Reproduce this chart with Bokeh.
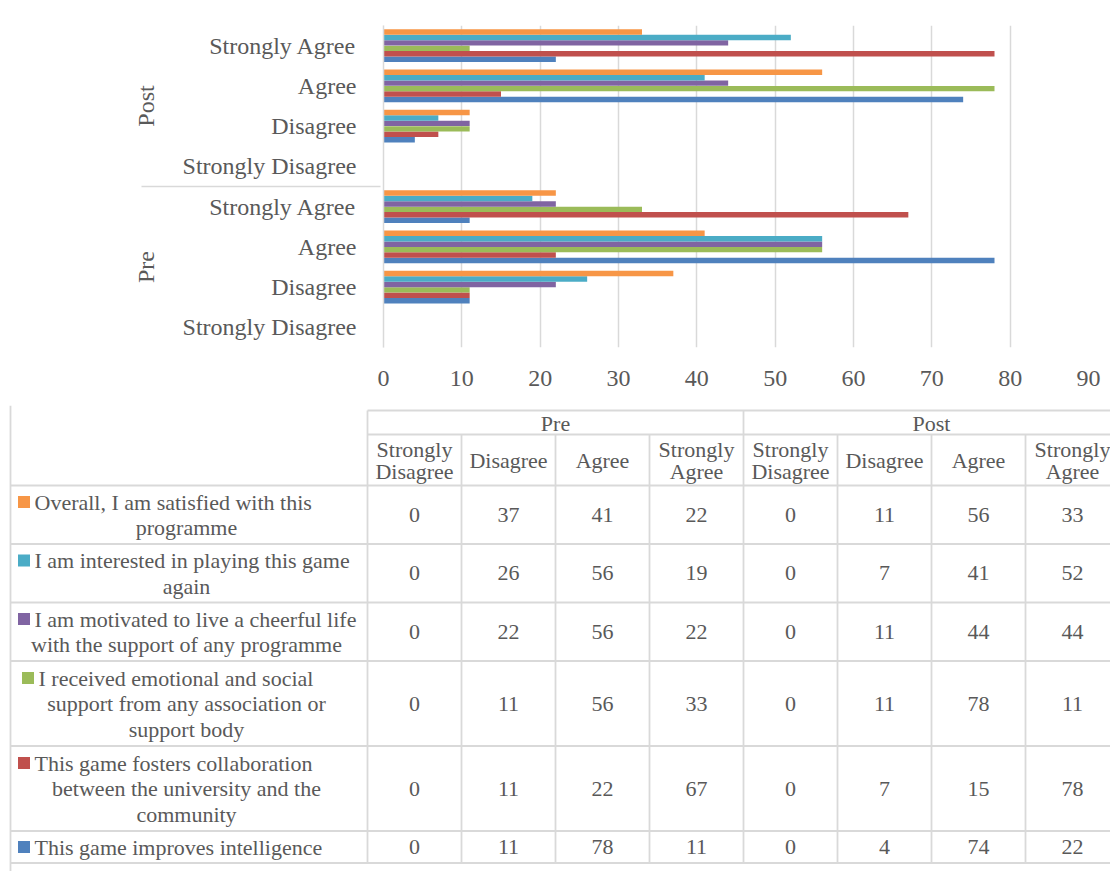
from bokeh.plotting import figure
from bokeh.models import ColumnDataSource, FactorRange, FixedTicker, Range1d, BoxAnnotation
from bokeh.transform import dodge
from bokeh.embed import file_html
from bokeh.resources import INLINE
from bokeh.core.properties import value

# ---------------- data ----------------
phases = ["Pre", "Post"]
responses = ["Strongly Disagree", "Disagree", "Agree", "Strongly Agree"]
x_ticks = [0, 10, 20, 30, 40, 50, 60, 70, 80, 90]

series_labels = [
    "This game improves intelligence",
    "This game fosters collaboration\nbetween the university and the\ncommunity",
    "I received emotional and social\nsupport from any association or\nsupport body",
    "I am motivated to live a cheerful life\nwith the support of any programme",
    "I am interested in playing this game\nagain",
    "Overall, I am satisfied with this\nprogramme",
]
series_colors = ["#4F81BD", "#C0504D", "#9BBB59", "#8064A2", "#4BACC6", "#F79646"]

# order: Pre SD, Pre D, Pre A, Pre SA, Post SD, Post D, Post A, Post SA
intelligence = [0, 11, 78, 11, 0, 4, 74, 22]
collaboration = [0, 11, 22, 67, 0, 7, 15, 78]
emotional = [0, 11, 56, 33, 0, 11, 78, 11]
motivated = [0, 22, 56, 22, 0, 11, 44, 44]
interested = [0, 26, 56, 19, 0, 7, 41, 52]
satisfied = [0, 37, 41, 22, 0, 11, 56, 33]
series_values = [intelligence, collaboration, emotional, motivated, interested, satisfied]

# ---------------- style ----------------
FONT = value("Liberation Serif")
TXT = "#595959"
LINE = "#D9D9D9"
W = 1110
CHART_H = 405
TABLE_H = 466
F_LEFT, F_RIGHT, F_TOP, F_BOTTOM = 383, 1088, 25, 347

# ---------------- chart ----------------
factors = [(ph, r) for ph in phases for r in responses]
data = {"y": factors}
for i, vals in enumerate(series_values):
    data[f"s{i}"] = vals
src = ColumnDataSource(data)

p = figure(width=W, height=CHART_H,
           y_range=FactorRange(factors=factors, group_padding=0, factor_padding=0, range_padding=0),
           x_range=Range1d(0, 90),
           output_backend="svg", toolbar_location=None,
           min_border_left=F_LEFT, min_border_right=W - F_RIGHT, min_border_top=F_TOP,
           min_border_bottom=CHART_H - F_BOTTOM)
p.outline_line_color = None
p.background_fill_color = "white"
p.border_fill_color = "white"

n = len(series_values)
bar_h = 0.135
for i in range(n):
    off = (i - (n - 1) / 2) * bar_h
    p.hbar(y=dodge("y", off, range=p.y_range), right=f"s{i}", left=0, height=bar_h,
           source=src, fill_color=series_colors[i], line_color=None)

p.xaxis.ticker = FixedTicker(ticks=x_ticks)
p.xaxis.axis_line_color = None
p.xaxis.major_tick_line_color = None
p.xaxis.minor_tick_line_color = None
p.xaxis.major_label_standoff = 17
p.xaxis.major_label_text_font = "Liberation Serif"
p.xaxis.major_label_text_font_size = "24px"
p.xaxis.major_label_text_color = TXT

p.yaxis.axis_line_color = LINE
p.yaxis.axis_line_width = 1.5
p.yaxis.major_tick_line_color = None
p.yaxis.minor_tick_line_color = None
p.yaxis.major_label_standoff = 21
p.yaxis.major_label_text_font = "Liberation Serif"
p.yaxis.major_label_text_font_size = "24px"
p.yaxis.major_label_text_color = TXT
p.yaxis.group_text_font = "Liberation Serif"
p.yaxis.group_text_font_size = "24px"
p.yaxis.group_text_color = TXT
p.yaxis.group_text_font_style = "normal"
p.yaxis.separator_line_color = LINE
p.yaxis.separator_line_width = 1.5

p.xgrid.grid_line_color = LINE
p.xgrid.grid_line_width = 1.5
p.ygrid.grid_line_color = None

# frame lines of the category-label box (top and bottom)
for yy in (F_TOP, F_BOTTOM):
    p.add_layout(BoxAnnotation(left=126, right=F_LEFT, top=yy - 0.75, bottom=yy + 0.75,
                               left_units="canvas", right_units="canvas",
                               top_units="canvas", bottom_units="canvas",
                               fill_color=LINE, fill_alpha=1, line_color=None, level="overlay"))

# ---------------- data table ----------------
T_TOP = CHART_H
t = figure(width=W, height=TABLE_H, x_range=Range1d(0, W), y_range=Range1d(T_TOP + TABLE_H, T_TOP),
           output_backend="svg", toolbar_location=None, min_border=0,
           x_axis_location=None, y_axis_location=None)
t.outline_line_color = None
t.grid.visible = False
t.background_fill_color = "white"
t.border_fill_color = "white"

frame_x = 10
col_left = 367
col_w = 94
ncols = len(phases) * len(responses)
col_edges = [col_left + col_w * j for j in range(ncols + 1)]
hdr1_top, hdr1_bot, hdr2_bot = 410, 434, 485
line_gap = 25.5
rows = list(reversed(range(n)))  # table lists last series first
row_lines = [len(series_labels[i].split("\n")) for i in rows]
row_edges = [hdr2_bot]
for k in row_lines:
    row_edges.append(row_edges[-1] + 5.5 + 26.5 * k)
right_x = col_edges[-1]

x0s, y0s, x1s, y1s = [], [], [], []
def seg(a, b, c, d):
    x0s.append(a); y0s.append(b); x1s.append(c); y1s.append(d)

seg(col_left, hdr1_top, right_x, hdr1_top)
seg(col_left, hdr1_bot, right_x, hdr1_bot)
for y in row_edges:
    seg(frame_x, y, right_x, y)
seg(frame_x, T_TOP, frame_x, T_TOP + TABLE_H)
for j, x in enumerate(col_edges):
    top = hdr1_top if j % len(responses) == 0 else hdr1_bot
    seg(x, top, x, row_edges[-1])
t.segment(x0=x0s, y0=y0s, x1=x1s, y1=y1s, line_color=LINE, line_width=1.8)

tx, ty, tt = [], [], []
# phase headers
for g, ph in enumerate(phases):
    a = col_edges[g * len(responses)]
    b = col_edges[(g + 1) * len(responses)]
    tx.append((a + b) / 2); ty.append((hdr1_top + hdr1_bot) / 2 + 1); tt.append(ph)
# response headers
hc = (hdr1_bot + hdr2_bot) / 2
for g in range(len(phases)):
    for r_i, r in enumerate(responses):
        j = g * len(responses) + r_i
        cx = (col_edges[j] + col_edges[j + 1]) / 2
        parts = r.split(" ") if r.startswith("Strongly") else [r]
        for k, part in enumerate(parts):
            tx.append(cx); ty.append(hc + (k - (len(parts) - 1) / 2) * 22); tt.append(part)
# values
for ri, si in enumerate(rows):
    cy = (row_edges[ri] + row_edges[ri + 1]) / 2
    for j, v in enumerate(series_values[si]):
        tx.append((col_edges[j] + col_edges[j + 1]) / 2); ty.append(cy); tt.append(str(v))
t.text(x=tx, y=ty, text=tt, text_font=FONT, text_font_size=value("22px"), text_color=TXT,
       text_align="center", text_baseline="middle")

# series labels with legend keys
lx, ly, lt = [], [], []
cx_, cy_, ct_ = [], [], []
kx, ky, kc = [], [], []
for ri, si in enumerate(rows):
    parts = series_labels[si].split("\n")
    cy = (row_edges[ri] + row_edges[ri + 1]) / 2
    indent = 38 if parts[0].startswith("I received") else 34
    for k, part in enumerate(parts):
        yy = cy + (k - (len(parts) - 1) / 2) * line_gap
        if k == 0:
            lx.append(indent); ly.append(yy); lt.append(part)
            kx.append(indent - 10.5); ky.append(yy); kc.append(series_colors[si])
        else:
            cx_.append(186); cy_.append(yy); ct_.append(part)
t.text(x=lx, y=ly, text=lt, text_font=FONT, text_font_size=value("22px"), text_color=TXT,
       text_align="left", text_baseline="middle")
t.text(x=cx_, y=cy_, text=ct_, text_font=FONT, text_font_size=value("22px"), text_color=TXT,
       text_align="center", text_baseline="middle")
t.rect(x=kx, y=ky, width=12, height=12, fill_color=kc, line_color=None)

open("out.html", "w").write(file_html([p, t], INLINE))
